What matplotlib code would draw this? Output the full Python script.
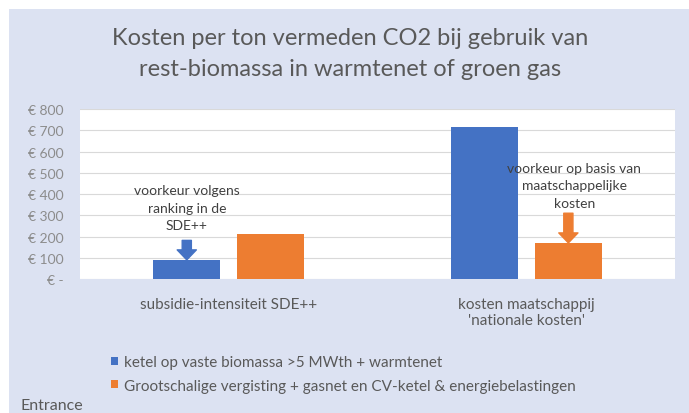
import numpy as np
import matplotlib.pyplot as plt
from matplotlib.patches import Rectangle
from matplotlib.ticker import FuncFormatter

plt.rcParams['font.family'] = ['Lato', 'DejaVu Sans']

categories = ['subsidie-intensiteit SDE++', "kosten maatschappij\n'nationale kosten'"]
series_names = ['ketel op vaste biomassa >5 MWth + warmtenet',
                'Grootschalige vergisting + gasnet en CV-ketel & energiebelastingen']
biomassa = [90, 715]
groen_gas = [212, 170]
yticks = [0, 100, 200, 300, 400, 500, 600, 700, 800]

blue = '#4472c4'
orange = '#ed7d31'
bg = '#dce2f2'

fig = plt.figure(figsize=(6.89, 4.14), dpi=100, facecolor='white')
fig.patches.append(Rectangle((9 / 689, 0), 1, 404 / 414, transform=fig.transFigure,
                             facecolor=bg, edgecolor='none', zorder=-10))

ax = fig.add_axes([0.116, 0.3237, 0.864, 0.41])
ax.set_facecolor('white')

x = np.arange(len(categories))
w = 0.225
gap = 0.057
off = (w + gap) / 2
b1 = ax.bar(x - off, biomassa, w, color=blue, zorder=3, label=series_names[0])
b2 = ax.bar(x + off, groen_gas, w, color=orange, zorder=3, label=series_names[1])

ax.set_xlim(-0.5, 1.5)
ax.set_ylim(0, 800)
ax.set_yticks(yticks)
ax.yaxis.set_major_formatter(FuncFormatter(lambda v, p: '€ -' if v == 0 else f'€ {int(v)}'))
ax.set_xticks(x)
ax.set_xticklabels(categories, fontsize=11, color='#595959', linespacing=1.2)
ax.tick_params(axis='y', length=0, labelsize=10, labelcolor='#8c8c8c', pad=12)
ax.tick_params(axis='x', length=0, pad=13)
ax.grid(axis='y', color='#d9d9d9', linewidth=0.8, zorder=0)
for s in ax.spines.values():
    s.set_visible(False)

arrow = 'simple,head_length=0.6,head_width=1.15,tail_width=0.55'

# annotations with block arrows
ax.annotate('', xy=(x[0] - off, biomassa[0]), xytext=(x[0] - off, 182),
            arrowprops=dict(arrowstyle=arrow, color=blue, shrinkA=0, shrinkB=0,
                            mutation_scale=12), zorder=4)
ax.text(x[0] - off, 224, 'voorkeur volgens\nranking in de\nSDE++', ha='center', va='bottom',
        fontsize=10, color='#404040', linespacing=1.55, zorder=5)

ax.annotate('', xy=(x[1] + off, groen_gas[1]), xytext=(x[1] + off, 310),
            arrowprops=dict(arrowstyle=arrow, color=orange, shrinkA=0, shrinkB=0,
                            mutation_scale=12), zorder=4)
ax.text(x[1] + off + 0.02, 332, 'voorkeur op basis van\nmaatschappelijke\nkosten', ha='center',
        va='bottom', fontsize=10, color='#404040', linespacing=1.55, zorder=5)

fig.text(0.508, 0.870, 'Kosten per ton vermeden CO2 bij gebruik van\nrest-biomassa in warmtenet of groen gas',
         ha='center', va='center', fontsize=17, color='#595959', linespacing=1.6)

fig.legend(handles=[b1, b2], labels=series_names, loc='center left',
           bbox_to_anchor=(111 / 689, 1 - 375 / 414), frameon=False, fontsize=11,
           labelcolor='#595959', handlelength=0.45, handleheight=0.45,
           handletextpad=0.4, labelspacing=0.6, borderaxespad=0, borderpad=0)

fig.text(20 / 689, 1 - 406 / 414, 'Entrance', ha='left', va='center', fontsize=11.5, color='#595959')

fig.savefig('out.png', dpi=100, facecolor=fig.get_facecolor())
